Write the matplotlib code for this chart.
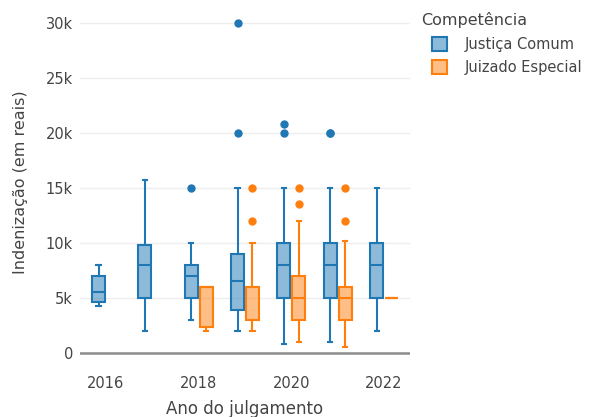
import matplotlib
matplotlib.use("Agg")
import matplotlib.pyplot as plt
from matplotlib.patches import Patch

plt.rcParams['font.family'] = ['DejaVu Sans']

years = [2016, 2017, 2018, 2019, 2020, 2021, 2022]

# Justiça Comum: quartiles, whiskers and outliers per year
comum_whislo = [4300, 2000, 3000, 2000, 800, 1000, 2000]
comum_q1 = [4600, 5000, 5000, 3900, 5000, 5000, 5000]
comum_med = [5500, 8000, 7000, 6500, 8000, 8000, 8000]
comum_q3 = [7000, 9800, 8000, 9000, 10000, 10000, 10000]
comum_whishi = [8000, 15700, 10000, 15000, 15000, 15000, 15000]
comum_fliers = [[], [], [15000], [30000, 20000], [20800, 20000], [20000, 20000], []]

# Juizado Especial: only from 2018 onwards
especial_years = [2018, 2019, 2020, 2021, 2022]
especial_whislo = [2000, 2000, 1000, 500, 5000]
especial_q1 = [2400, 3000, 3000, 3000, 5000]
especial_med = [6000, 6000, 5000, 5000, 5000]
especial_q3 = [6000, 6000, 7000, 6000, 5000]
especial_whishi = [6000, 10000, 12000, 10200, 5000]
especial_fliers = [[], [15000, 12000], [15000, 13500], [15000, 12000], []]

BLUE = '#1f77b4'
ORANGE = '#ff7f0e'
TEXT = '#444444'
W, H = 589, 417

fig = plt.figure(figsize=(W / 100, H / 100), dpi=100)
ax = fig.add_axes([80 / W, 1 - 364 / H, 330 / W, 356 / H])


def stats(whislo, q1, med, q3, whishi, fliers):
    return [dict(whislo=a, q1=b, med=c, q3=d, whishi=e, fliers=f)
            for a, b, c, d, e, f in zip(whislo, q1, med, q3, whishi, fliers)]


def draw(st, pos, color):
    n = len(pos)
    lw = 1.5
    ax.bxp(st, positions=pos, widths=[0.28] * n, capwidths=[0.09] * n,
           patch_artist=True, showfliers=True,
           boxprops=dict(facecolor=matplotlib.colors.to_rgba(color, 0.5),
                         edgecolor=color, linewidth=lw),
           medianprops=dict(color=color, linewidth=lw),
           whiskerprops=dict(color=color, linewidth=lw),
           capprops=dict(color=color, linewidth=lw),
           flierprops=dict(marker='o', markerfacecolor=color,
                           markeredgecolor=color, markersize=5))


offset = 0.16
draw(stats(comum_whislo, comum_q1, comum_med, comum_q3, comum_whishi, comum_fliers),
     [y - offset for y in years], BLUE)
draw(stats(especial_whislo, especial_q1, especial_med, especial_q3, especial_whishi,
           especial_fliers),
     [y + offset for y in especial_years], ORANGE)

ax.set_xlim(2015.44, 2022.56)
ax.set_ylim(-1000, 31350)

yticks = [0, 5000, 10000, 15000, 20000, 25000, 30000]
ytick_labels = ['0', '5k', '10k', '15k', '20k', '25k', '30k']
xticks = [2016, 2018, 2020, 2022]
ax.set_yticks(yticks)
ax.set_yticklabels(ytick_labels)
ax.set_xticks(xticks)
ax.set_xticklabels([str(x) for x in xticks])
ax.tick_params(axis='both', length=0, colors=TEXT, labelsize=10.5)
ax.tick_params(axis='y', pad=5)
ax.tick_params(axis='x', pad=9)

for s in ax.spines.values():
    s.set_visible(False)
ax.set_axisbelow(True)
ax.grid(axis='y', color='#eeeeee', linewidth=1)
ax.grid(axis='x', visible=False)
ax.axhline(0, color='#8c8c8c', linewidth=1.8, zorder=1)

fig.text(245 / W, 3 / H, 'Ano do julgamento', color=TEXT, fontsize=12,
         ha='center', va='baseline')
fig.text(21 / W, 1 - 182 / H, 'Indenização (em reais)', rotation=90,
         color=TEXT, fontsize=11.5, ha='center', va='center')

# Legend: title as its own text, entries indented beneath it
fig.text(421 / W, 1 - 20 / H, 'Competência', color=TEXT, fontsize=11.5,
         ha='left', va='center')
handles = [
    Patch(facecolor=matplotlib.colors.to_rgba(BLUE, 0.5), edgecolor=BLUE,
          linewidth=1.5, label='Justiça Comum'),
    Patch(facecolor=matplotlib.colors.to_rgba(ORANGE, 0.5), edgecolor=ORANGE,
          linewidth=1.5, label='Juizado Especial'),
]
leg = fig.legend(handles=handles, loc='upper left',
                 bbox_to_anchor=(432 / W, 1 - 37 / H), frameon=False,
                 borderpad=0, borderaxespad=0,
                 fontsize=10.5, handlelength=1.05,
                 handleheight=1.05, handletextpad=1.2, labelspacing=0.55)
for t in leg.get_texts():
    t.set_color(TEXT)

fig.savefig('out.png', dpi=100)
